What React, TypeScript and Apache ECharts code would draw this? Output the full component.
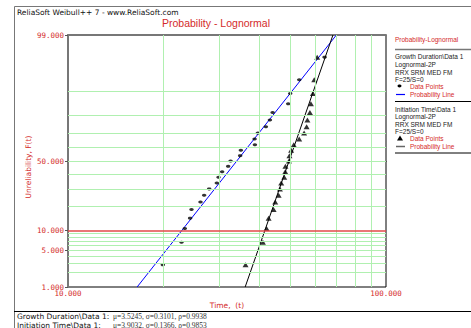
import React, { useEffect, useRef } from "react";
import * as echarts from "echarts";

// ---- data ----
const rankF = [2.76, 6.69, 10.63, 14.57, 18.5, 22.44, 26.38, 30.31, 34.25, 38.19, 42.13, 46.06, 50, 53.94, 57.87, 61.81, 65.75, 69.69, 73.62, 77.56, 81.5, 85.43, 89.37, 93.31, 97.24];
const growthT = [19.87, 22.75, 23.3, 24.21, 24.45, 26.1, 26.8, 27.79, 29.38, 29.74, 30.53, 31.89, 32.45, 34.78, 34.96, 38.7, 38.61, 39.55, 41.9, 43.14, 44.0, 49.26, 49.98, 53.34, 64.1];
const initT = [36.17, 41.01, 42.12, 42.74, 44.32, 44.84, 45.96, 46.39, 46.83, 47.86, 48.21, 48.28, 49.52, 49.7, 50.31, 51.27, 53.34, 55.26, 56.28, 56.6, 57.64, 58.06, 58.91, 59.47, 60.77];
const growthParams = { mu: 3.5245, sigma: 0.3101, rho: 0.9938 };
const initParams = { mu: 3.9032, sigma: 0.1366, rho: 0.9853 };
const yLabelF = [1, 5, 10, 50, 99];
const yGridF = [2, 3, 4, 5, 6, 7, 8, 9, 20, 30, 40, 50, 60, 70, 80, 90];
const yRedF = [10];
const xGrid = [20, 30, 40, 50, 60, 70, 80, 90];

function invNorm(p: number): number {
  const a = [-3.969683028665376e1, 2.209460984245205e2, -2.759285104469687e2, 1.38357751867269e2, -3.066479806614716e1, 2.506628277459239];
  const b = [-5.447609879822406e1, 1.615858368580409e2, -1.556989798598866e2, 6.680131188771972e1, -1.328068155288572e1];
  const c = [-7.784894002430293e-3, -3.223964580411365e-1, -2.400758277161838, -2.549732539343734, 4.374664141464968, 2.938163982698783];
  const d = [7.784695709041462e-3, 3.224671290700398e-1, 2.445134137142996, 3.754408661907416];
  const pl = 0.02425;
  let q: number, r: number;
  if (p < pl) {
    q = Math.sqrt(-2 * Math.log(p));
    return (((((c[0] * q + c[1]) * q + c[2]) * q + c[3]) * q + c[4]) * q + c[5]) / ((((d[0] * q + d[1]) * q + d[2]) * q + d[3]) * q + 1);
  }
  if (p > 1 - pl) {
    q = Math.sqrt(-2 * Math.log(1 - p));
    return -(((((c[0] * q + c[1]) * q + c[2]) * q + c[3]) * q + c[4]) * q + c[5]) / ((((d[0] * q + d[1]) * q + d[2]) * q + d[3]) * q + 1);
  }
  q = p - 0.5;
  r = q * q;
  return ((((((a[0] * r + a[1]) * r + a[2]) * r + a[3]) * r + a[4]) * r + a[5]) * q) / (((((b[0] * r + b[1]) * r + b[2]) * r + b[3]) * r + b[4]) * r + 1);
}
const zOf = (F: number) => invNorm(F / 100);

const RED = "#d42a2a";
const GREEN = "#b0f0b0";
const NARROW = "'Liberation Sans Narrow', 'Liberation Sans', Arial, sans-serif";
const SANS = "'DejaVu Sans', Verdana, sans-serif";

export default function App() {
  const ref = useRef<HTMLDivElement>(null);
  useEffect(() => {
    if (!ref.current) return;
    const chart = echarts.init(ref.current, undefined, { renderer: "svg" });
    const zMin = zOf(1);
    const zMax = zOf(99);
    const fitLine = (p: { mu: number; sigma: number }) =>
      [zMin, zMax].map((z) => [Math.exp(p.mu + p.sigma * z), z]);
    const labelZ = yLabelF.map(zOf);

    const legendX = 395;
    const small = { fontSize: 6.5, fontFamily: NARROW };
    const lt = (text: string, y: number, color = "#222", x = legendX) => ({
      type: "text",
      left: x,
      top: y - 4,
      style: { text, fill: color, ...small },
    });

    chart.setOption({
      animation: false,
      grid: { left: 68, top: 35, width: 318, height: 252, show: true, borderColor: "#000", borderWidth: 1, backgroundColor: "#fff" },
      xAxis: [
        {
          type: "log",
          logBase: 10,
          min: 10,
          max: 100,
          name: "Time,  (t)",
          nameLocation: "middle",
          nameGap: 14,
          nameTextStyle: { color: RED, fontSize: 7.5, fontFamily: SANS },
          axisLine: { lineStyle: { color: "#000", width: 1 } },
          axisTick: { show: false },
          splitLine: { show: false },
          axisLabel: {
            margin: 2,
            color: RED,
            fontSize: 7.5,
            fontFamily: "'DejaVu Sans Mono', monospace",
            formatter: (v: number) => v.toFixed(3),
          },
        },
        {
          type: "log",
          logBase: 10,
          min: 10,
          max: 100,
          position: "top",
          axisLine: { show: true, lineStyle: { color: "#777", width: 2 } },
          axisTick: { show: false },
          axisLabel: { show: false },
          splitLine: { show: false },
        },
      ],
      yAxis: {
        type: "value",
        min: zMin,
        max: zMax,
        axisLine: { show: true, lineStyle: { color: "#777", width: 2 } },
        axisTick: { show: true, inside: false, length: 3, customValues: labelZ, lineStyle: { color: "#555" } },
        splitLine: { show: false },
        axisLabel: {
          customValues: labelZ,
          margin: 4,
          color: RED,
          fontSize: 7.5,
          fontFamily: "'DejaVu Sans Mono', monospace",
          formatter: (v: number) => {
            let best = 0;
            labelZ.forEach((z, i) => {
              if (Math.abs(z - v) < Math.abs(labelZ[best] - v)) best = i;
            });
            return yLabelF[best].toFixed(3);
          },
        },
      },
      series: [
        {
          type: "line",
          data: [],
          z: 1,
          silent: true,
          markLine: {
            silent: true,
            symbol: "none",
            label: { show: false },
            lineStyle: { color: GREEN, type: "solid", width: 1 },
            data: [
              ...xGrid.map((v) => ({ xAxis: v })),
              ...yGridF.map((F) => ({ yAxis: zOf(F) })),
              ...yRedF.map((F) => ({ yAxis: zOf(F), lineStyle: { color: "#e34848", width: 1.5 } })),
            ],
          },
        },
        {
          type: "line",
          data: fitLine(growthParams),
          z: 3,
          symbol: "none",
          lineStyle: { color: "#0000ff", width: 1 },
          clip: true,
        },
        {
          type: "line",
          data: fitLine(initParams),
          z: 3,
          symbol: "none",
          lineStyle: { color: "#000", width: 1 },
          clip: true,
        },
        {
          type: "scatter",
          z: 4,
          data: growthT.map((t, i) => [t, zOf(rankF[i])]),
          symbol: "circle",
          symbolSize: [4.5, 3],
          itemStyle: { color: "#000" },
        },
        {
          type: "scatter",
          z: 4,
          data: initT.map((t, i) => [t, zOf(rankF[i])]),
          symbol: "triangle",
          symbolSize: [6, 5],
          itemStyle: { color: "#000" },
        },
      ],
      graphic: [
        { type: "rect", shape: { x: 14.5, y: 6.5, width: 470, height: 340 }, style: { fill: "none", stroke: "#777", lineWidth: 1 }, z: -10 },
        { type: "line", shape: { x1: 14, y1: 311.5, x2: 471, y2: 311.5 }, style: { stroke: "#000", lineWidth: 1 } },
        { type: "text", left: 17, top: 8, style: { text: "ReliaSoft Weibull++ 7 - www.ReliaSoft.com", fill: "#111", fontSize: 7.5, fontFamily: SANS } },
        { type: "text", x: 216, y: 23, style: { text: "Probability - Lognormal", fill: RED, fontSize: 10.5, fontFamily: NARROW, align: "center", verticalAlign: "middle" } },
        { type: "text", x: 28, y: 167, rotation: Math.PI / 2, style: { text: "Unreliability, F(t)", fill: RED, fontSize: 7.5, fontFamily: SANS, align: "center", verticalAlign: "middle" } },
        // legend
        lt("Probability-Lognormal", 40, RED),
        { type: "line", shape: { x1: 395, y1: 49.5, x2: 471, y2: 49.5 }, style: { stroke: "#777", lineWidth: 1.5 } },
        lt("Growth Duration\\Data 1", 57),
        lt("Lognormal-2P", 65),
        lt("RRX SRM MED FM", 72.5),
        lt("F=25/S=0", 80),
        { type: "ellipse", shape: { cx: 399.5, cy: 86, rx: 2, ry: 1.4 }, style: { fill: "#000" } },
        lt("Data Points", 86.5, RED, 410),
        { type: "line", shape: { x1: 396, y1: 94.5, x2: 405, y2: 94.5 }, style: { stroke: "#0000ff", lineWidth: 1.2 } },
        lt("Probability Line", 94.5, RED, 410),
        { type: "line", shape: { x1: 395, y1: 101.5, x2: 471, y2: 101.5 }, style: { stroke: "#000", lineWidth: 1 } },
        lt("Initiation Time\\Data 1", 109.5),
        lt("Lognormal-2P", 117),
        lt("RRX SRM MED FM", 124.5),
        lt("F=25/S=0", 132),
        { type: "polygon", shape: { points: [[400, 135.5], [403, 140.5], [397, 140.5]] }, style: { fill: "#000" } },
        lt("Data Points", 138.5, RED, 410),
        { type: "line", shape: { x1: 396, y1: 146.5, x2: 405, y2: 146.5 }, style: { stroke: "#666", lineWidth: 1.5 } },
        lt("Probability Line", 146.5, RED, 410),
        { type: "line", shape: { x1: 395, y1: 153, x2: 471, y2: 153 }, style: { stroke: "#000", lineWidth: 1 } },
        // bottom parameter text
        { type: "text", left: 17, top: 312, style: { text: "Growth Duration\\Data 1:", fill: "#111", fontSize: 7.5, fontFamily: SANS } },
        { type: "text", left: 113, top: 312.5, style: { text: `μ=${growthParams.mu.toFixed(4)}, σ=${growthParams.sigma.toFixed(4)}, ρ=${growthParams.rho.toFixed(4)}`, fill: "#333", fontSize: 7.5, fontFamily: "'Liberation Serif', 'DejaVu Serif', serif" } },
        { type: "text", left: 17, top: 321, style: { text: "Initiation Time\\Data 1:", fill: "#111", fontSize: 7.5, fontFamily: SANS } },
        { type: "text", left: 113, top: 321.5, style: { text: `μ=${initParams.mu.toFixed(4)}, σ=${initParams.sigma.toFixed(4)}, ρ=${initParams.rho.toFixed(4)}`, fill: "#333", fontSize: 7.5, fontFamily: "'Liberation Serif', 'DejaVu Serif', serif" } },
      ],
    });
    return () => chart.dispose();
  }, []);
  return (
    <div
      ref={ref}
      style={{ position: "fixed", left: 0, top: 0, width: 471, height: 328, background: "#fff" }}
    />
  );
}
